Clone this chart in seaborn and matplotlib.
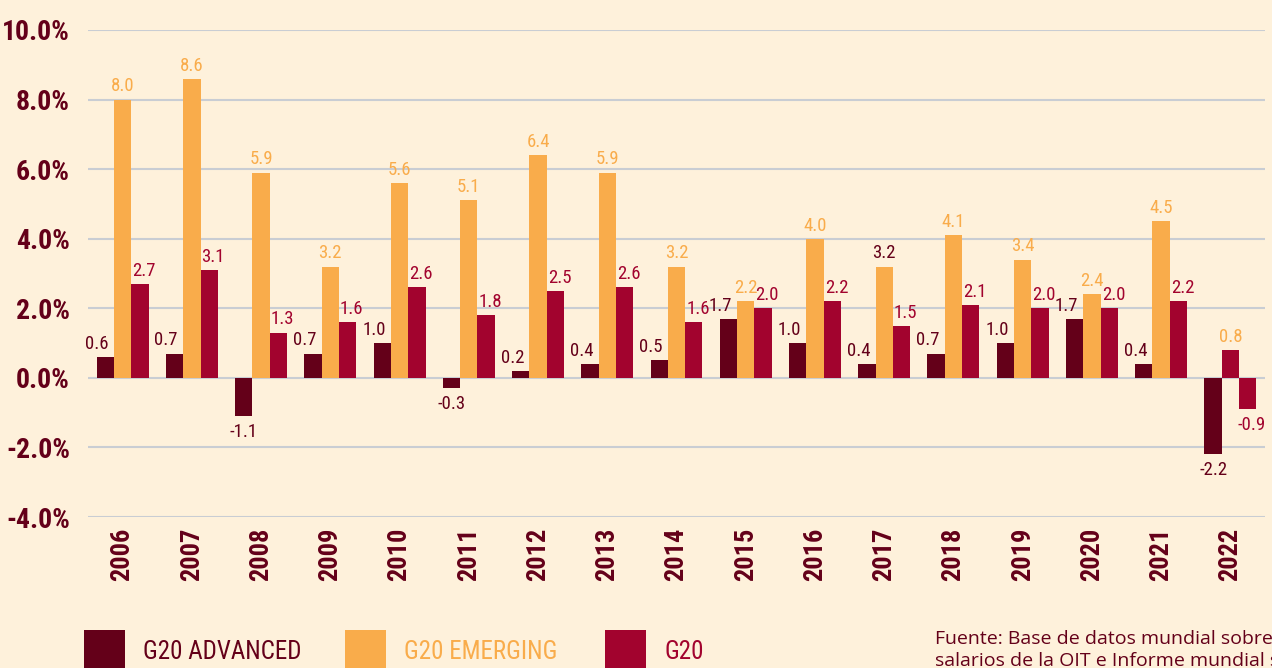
import matplotlib
matplotlib.use('Agg')
import matplotlib.pyplot as plt
from matplotlib import font_manager
from matplotlib.patches import Rectangle
import pandas as pd
import seaborn as sns

# Data: annual real wage growth (%)
years = [str(y) for y in range(2006, 2023)]
advanced = [0.6, 0.7, -1.1, 0.7, 1.0, -0.3, 0.2, 0.4, 0.5, 1.7, 1.0, 0.4, 0.7, 1.0, 1.7, 0.4, -2.2]
emerging = [8.0, 8.6, 5.9, 3.2, 5.6, 5.1, 6.4, 5.9, 3.2, 2.2, 4.0, 3.2, 4.1, 3.4, 2.4, 4.5, 0.8]
g20 = [2.7, 3.1, 1.3, 1.6, 2.6, 1.8, 2.5, 2.6, 1.6, 2.0, 2.2, 1.5, 2.1, 2.0, 2.0, 2.2, -0.9]
series_names = ['G20 ADVANCED', 'G20 EMERGING', 'G20']
y_ticks = [-4, -2, 0, 2, 4, 6, 8, 10]
source_text = "Fuente: Base de datos mundial sobre los\nsalarios de la OIT e Informe mundial sobre salarios"

BG = '#FEF1DB'
MAROON = '#640019'
ORANGE = '#F9AC4B'
CRIMSON = '#A2032E'
GRID = '#C9CDD3'
colors = [MAROON, ORANGE, CRIMSON]
label_dx = [-6, 0, 3]  # horizontal nudge of value labels per series (points)

df = pd.DataFrame({
    'Year': years * 3,
    'Growth': advanced + emerging + g20,
    'Series': [s for s in series_names for _ in years],
})

sns.set_theme(style='white')

# pick a narrow face if one is installed, else Roboto with smaller sizes
names = {f.name for f in font_manager.fontManager.ttflist}
narrow = next((n for n in ['Roboto Condensed', 'Liberation Sans Narrow', 'Noto Sans Condensed',
                           'Open Sans Condensed', 'DejaVu Sans Condensed'] if n in names), None)
if narrow:
    plt.rcParams['font.family'] = [narrow, 'DejaVu Sans']
    k = 1.0
else:
    plt.rcParams['font.family'] = ['Roboto', 'DejaVu Sans']
    k = 0.82

fig = plt.figure(figsize=(12.72, 6.68), dpi=100, facecolor=BG)
ax = fig.add_axes([88 / 1272, 1 - 517 / 668, (1265 - 88) / 1272, (517 - 30) / 668])
ax.set_facecolor(BG)

sns.barplot(data=df, x='Year', y='Growth', hue='Series', hue_order=series_names,
            palette=colors, width=0.75, gap=0, saturation=1, legend=False, ax=ax,
            linewidth=0, zorder=3)

# quirk of the original: 2022 emerging bar drawn in crimson
ax.containers[1][16].set_facecolor(CRIMSON)

# value labels
for s_idx, (cont, vals) in enumerate(zip(ax.containers, [advanced, emerging, g20])):
    for i, (bar, v) in enumerate(zip(cont, vals)):
        x = bar.get_x() + bar.get_width() / 2
        dx = label_dx[s_idx] if v >= 0 else (0 if s_idx == 0 else label_dx[s_idx])
        c = colors[s_idx]
        if s_idx == 1 and years[i] == '2017':
            c = MAROON
        if v >= 0:
            ax.annotate(f'{v:.1f}', (x, v), xytext=(dx, 3), textcoords='offset points',
                        ha='center', va='bottom', fontsize=13.5 * k, color=c)
        else:
            ax.annotate(f'{v:.1f}', (x, v), xytext=(dx, -5), textcoords='offset points',
                        ha='center', va='top', fontsize=13.5 * k, color=c)

ax.set_ylim(-4, 10)
ax.set_xlim(-0.5, len(years) - 0.5)
ax.set_yticks(y_ticks)
ax.set_yticklabels([f'{t:.1f}%' for t in y_ticks])
ax.yaxis.grid(True, color=GRID, linewidth=1.5, zorder=0)
ax.set_axisbelow(True)
ax.tick_params(axis='y', length=0, pad=13, labelsize=20 * k, labelcolor=MAROON)
ax.tick_params(axis='x', length=0, pad=8, labelsize=19 * k, labelcolor=MAROON, rotation=90)
for lbl in ax.get_xticklabels() + ax.get_yticklabels():
    lbl.set_fontweight('bold')
ax.set_xlabel('')
ax.set_ylabel('')
for sp in ax.spines.values():
    sp.set_visible(False)

# legend
leg_x = [84, 345, 605]
for name, c, lx in zip(series_names, colors, leg_x):
    fig.add_artist(Rectangle((lx / 1272, (668 - 671) / 668), 41 / 1272, 41 / 668,
                             transform=fig.transFigure, facecolor=c, edgecolor='none'))
    fig.text((lx + 59) / 1272, 1 - 652 / 668, name, color=c, fontsize=18 * k,
             va='center', ha='left')

fig.text(935 / 1272, 1 - 630 / 668, source_text, color=MAROON, fontsize=14,
         family=['Open Sans', 'DejaVu Sans'], fontweight='normal',
         va='top', ha='left', linespacing=1.3)

fig.savefig('out.png', dpi=100, facecolor=BG)
